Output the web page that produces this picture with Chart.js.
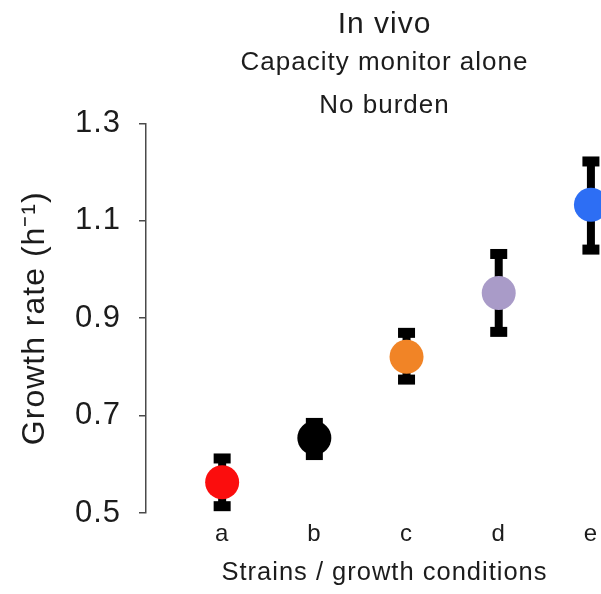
<!DOCTYPE html>
<html>
<head>
<meta charset="utf-8">
<script src="https://cdn.jsdelivr.net/npm/chart.js@4/dist/chart.umd.min.js"></script>
<style>
    html, body { margin: 0; padding: 0; background: #fff; overflow: hidden; }
    #wrap { width: 640px; height: 594px; }
</style>
</head>
<body>
<div id="wrap"><canvas id="growthChart" width="640" height="594"></canvas></div>
<script>
// strains / growth conditions
const categories = ['a', 'b', 'c', 'd', 'e'];
// growth rate (1/h)
const growthRate = [0.563, 0.654, 0.821, 0.952, 1.133];
const errLow = [0.514, 0.619, 0.774, 0.872, 1.041];
const errHigh = [0.612, 0.685, 0.870, 1.032, 1.222];
const pointColors = ['#fb0d0d', '#000000', '#f18426', '#a99bc8', '#2d6ef4'];
const yTicks = [0.5, 0.7, 0.9, 1.1, 1.3];

const FONT = "'Liberation Sans', Arial, Helvetica, sans-serif";
const TEXT = '#1c1c1c';
const AXIS = '#4a4a4a';

// the original lettering is a bit looser than Arial
const looseText = {
    id: 'looseText',
    beforeUpdate(chart) { chart.ctx.letterSpacing = '1px'; },
    beforeDraw(chart) { chart.ctx.letterSpacing = '1px'; }
};

// error bars, drawn under the points
const errorBars = {
    id: 'errorBars',
    beforeDatasetsDraw(chart) {
        const ctx = chart.ctx;
        const xs = chart.scales.x;
        const ys = chart.scales.y;
        ctx.save();
        ctx.fillStyle = '#000';
        ctx.strokeStyle = '#000';
        ctx.lineWidth = 8;
        categories.forEach((c, i) => {
            const x = xs.getPixelForValue(i);
            const yLo = ys.getPixelForValue(errLow[i]);
            const yHi = ys.getPixelForValue(errHigh[i]);
            ctx.beginPath();
            ctx.moveTo(x, yLo);
            ctx.lineTo(x, yHi);
            ctx.stroke();
            ctx.fillRect(x - 8.5, yLo - 5, 17, 10);
            ctx.fillRect(x - 8.5, yHi - 5, 17, 10);
        });
        ctx.restore();
    }
};

new Chart(document.getElementById('growthChart'), {
    type: 'scatter',
    data: {
        datasets: [{
            data: categories.map((c, i) => ({ x: i, y: growthRate[i] })),
            pointBackgroundColor: pointColors,
            pointBorderWidth: 0,
            pointRadius: 17,
            pointHoverRadius: 17,
            showLine: false
        }]
    },
    options: {
        responsive: false,
        animation: false,
        devicePixelRatio: 1,
        layout: { padding: 0 },
        plugins: {
            legend: { display: false },
            tooltip: { enabled: false },
            title: {
                display: true,
                text: 'In vivo',
                fullSize: false,
                color: TEXT,
                font: { family: FONT, size: 30, weight: 'normal', lineHeight: 1.0 },
                padding: { top: 10, bottom: 0 }
            },
            subtitle: {
                display: true,
                text: ['Capacity monitor alone', 'No burden'],
                fullSize: false,
                color: TEXT,
                font: { family: FONT, size: 26, lineHeight: 1.673 },
                padding: { top: 1, bottom: -4.5 }
            }
        },
        scales: {
            x: {
                type: 'linear',
                min: -0.826,
                max: 4.348,
                afterBuildTicks: s => { s.ticks = categories.map((c, i) => ({ value: i })); },
                afterFit: s => { s.height = 81; },
                grid: { display: false, drawTicks: false },
                border: { display: false },
                ticks: {
                    padding: 7,
                    color: TEXT,
                    font: { family: FONT, size: 24 },
                    maxRotation: 0,
                    callback: v => categories[v] ?? ''
                },
                title: {
                    display: true,
                    text: 'Strains / growth conditions',
                    color: TEXT,
                    font: { family: FONT, size: 25.5 },
                    padding: { top: 0, bottom: 5.5 }
                }
            },
            y: {
                min: 0.5,
                max: 1.3,
                afterBuildTicks: s => { s.ticks = yTicks.map(v => ({ value: v })); },
                afterFit: s => { s.width = 146; },
                grid: {
                    drawOnChartArea: false,
                    drawTicks: true,
                    tickLength: 7,
                    color: AXIS,
                    lineWidth: 1.5
                },
                border: { display: true, color: AXIS, width: 1.5 },
                ticks: {
                    padding: 18,
                    color: TEXT,
                    font: { family: FONT, size: 31 },
                    callback: v => v.toFixed(1)
                },
                title: {
                    display: true,
                    text: 'Growth rate (h\u207B\u00B9)',
                    color: TEXT,
                    font: { family: FONT, size: 32 },
                    padding: { top: 16, bottom: 0 }
                }
            }
        }
    },
    plugins: [looseText, errorBars]
});
</script>
</body>
</html>
